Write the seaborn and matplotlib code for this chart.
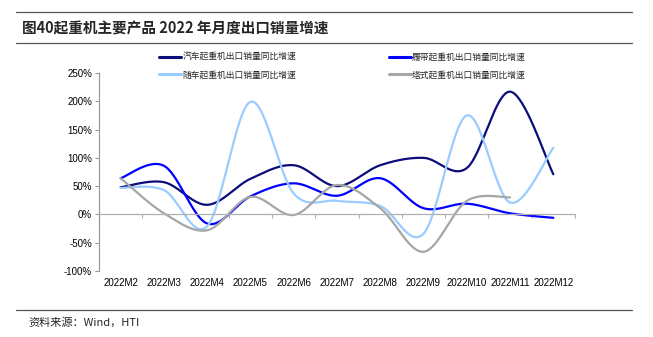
import numpy as np
import pandas as pd
import matplotlib
matplotlib.use("Agg")
import matplotlib.pyplot as plt
from matplotlib.lines import Line2D
from matplotlib.ticker import FixedLocator, FuncFormatter
import seaborn as sns

# Monthly export sales growth (%) of the main crane products, 2022
months = ["2022M2", "2022M3", "2022M4", "2022M5", "2022M6", "2022M7",
          "2022M8", "2022M9", "2022M10", "2022M11", "2022M12"]
truck_crane = [48, 57, 17, 63, 87, 50, 87, 100, 82, 217, 71]
crawler_crane = [64, 86, -16, 32, 55, 33, 64, 11, 19, 2, -6]
truck_mounted = [47, 43, -21, 199, 37, 24, 15, -34, 175, 21, 118]
tower_crane = [64, 2, -28, 31, -1, 52, 11, -66, 24, 30, np.nan]

series_names = ["汽车起重机出口销量同比增速", "履带起重机出口销量同比增速",
                "随车起重机出口销量同比增速", "塔式起重机出口销量同比增速"]
series_values = [truck_crane, crawler_crane, truck_mounted, tower_crane]
series_colors = ["#0c0c7a", "#0000ff", "#99ccff", "#a6a6a6"]

y_ticks = [-100, -50, 0, 50, 100, 150, 200, 250]


def smooth_curve(values, steps=40):
    """Bezier smoothing through the points (Catmull-Rom style control points)."""
    v = np.asarray(values, dtype=float)
    x = np.arange(len(v), dtype=float)
    keep = ~np.isnan(v)
    x, v = x[keep], v[keep]
    n = len(v)
    xs, ys = [], []
    t = np.linspace(0, 1, steps)
    for i in range(n - 1):
        p0 = np.array([x[i], v[i]])
        p3 = np.array([x[i + 1], v[i + 1]])
        prev = np.array([x[i - 1], v[i - 1]]) if i > 0 else p0
        nxt = np.array([x[i + 2], v[i + 2]]) if i + 2 < n else p3
        p1 = p0 + (p3 - prev) / 6.0
        p2 = p3 - (nxt - p0) / 6.0
        b = ((1 - t) ** 3)[:, None] * p0 + (3 * (1 - t) ** 2 * t)[:, None] * p1 \
            + (3 * (1 - t) * t ** 2)[:, None] * p2 + (t ** 3)[:, None] * p3
        xs.append(b[:, 0])
        ys.append(b[:, 1])
    return np.concatenate(xs), np.concatenate(ys)


sns.set_style("white")
plt.rcParams["font.family"] = ["Liberation Sans", "Noto Sans CJK SC"]
cjk = ["Noto Sans CJK SC", "DejaVu Sans"]

fig = plt.figure(figsize=(6.53, 3.37), dpi=100)
ax = fig.add_axes([99 / 653, 1 - 271 / 337, 476 / 653, 198 / 337])

handles = {}
for name, vals, color in zip(series_names, series_values, series_colors):
    sx, sy = smooth_curve(vals)
    df = pd.DataFrame({"x": sx, "y": sy})
    sns.lineplot(data=df, x="x", y="y", ax=ax, color=color, linewidth=1.6,
                 sort=False, estimator=None, label=name)
    handles[name] = ax.get_lines()[-1]

ax.set_xlim(-0.5, len(months) - 0.5)
ax.set_ylim(-100, 250)
ax.set_xlabel("")
ax.set_ylabel("")

# y axis
ax.yaxis.set_major_locator(FixedLocator(y_ticks))
ax.yaxis.set_major_formatter(FuncFormatter(lambda v, p: f"{int(v)}%"))
ax.tick_params(axis="y", which="major", left=True, length=3, width=0.8,
               color="#9a9a9a", pad=2, labelsize=7, labelcolor="#000000")

# x axis drawn along the zero line, labels below the plot area
for side in ["top", "right"]:
    ax.spines[side].set_visible(False)
ax.spines["left"].set_color("#9a9a9a")
ax.spines["left"].set_linewidth(0.9)
ax.spines["bottom"].set_position(("data", 0))
ax.spines["bottom"].set_color("#b0b0b0")
ax.spines["bottom"].set_linewidth(0.9)
ax.set_xticks(range(len(months)))
ax.set_xticklabels(months)
ax.set_xticks(np.arange(-0.5, len(months) + 0.5, 1), minor=True)
ax.tick_params(axis="x", which="major", bottom=True, length=0, pad=46,
               labelsize=7, labelcolor="#000000")
ax.tick_params(axis="x", which="minor", bottom=True, length=3, width=0.8,
               color="#b0b0b0")
ax.grid(False)

order = [series_names[0], series_names[2], series_names[1], series_names[3]]
leg = ax.legend([handles[n] for n in order], order, ncol=2, frameon=False,
                loc="upper left", bbox_to_anchor=(159 / 653, 1 - 53 / 337),
                bbox_transform=fig.transFigure, prop={"family": cjk, "size": 6.3},
                handlelength=2.5, handletextpad=0.15, columnspacing=10.6,
                labelspacing=0.95, borderpad=0, borderaxespad=0)
for line in leg.get_lines():
    line.set_linewidth(2.2)

# heading, rules and source note
fig.text(22 / 653, 1 - 28 / 337, "图40起重机主要产品 2022 年月度出口销量增速",
         family=cjk, fontsize=10.5, fontweight="bold", va="center", ha="left")
for yy in (12, 43, 310):
    fig.add_artist(Line2D([16 / 653, 632 / 653], [1 - yy / 337, 1 - yy / 337],
                          transform=fig.transFigure, color="#555555", linewidth=0.9))
fig.text(28 / 653, 1 - 322 / 337, "资料来源：Wind，HTI", family=cjk,
         fontsize=8, va="center", ha="left")

fig.savefig("out.png", dpi=100)
